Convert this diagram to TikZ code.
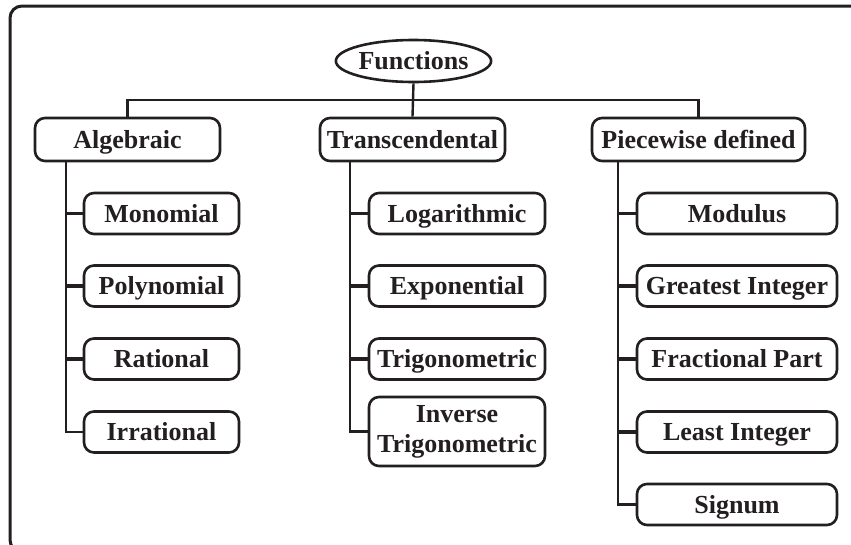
\documentclass[tikz,border=0pt]{standalone}
\usepackage{fontspec}
\setmainfont{Liberation Serif}
\usetikzlibrary{shapes.geometric}
\definecolor{ink}{HTML}{231F20}
\tikzset{
  box/.style={draw=ink, line width=2.6pt, rounded corners=10pt, inner sep=0pt, align=center,
    font=\fontsize{26}{30}\selectfont\bfseries, text=ink},
  oneline/.style={text height=17pt, text depth=0pt},
  lvlone/.style={box, oneline, minimum height=43pt},
  lvltwo/.style={box, oneline, minimum height=41pt},
  conn/.style={draw=ink, line width=2.4pt},
  stub/.style={draw=ink, line width=3.6pt},
}
\begin{document}
\begin{tikzpicture}[x=1pt,y=-1pt]
\clip (0,0) rectangle (851,544);
\draw[ink, line width=3pt, rounded corners=12pt] (10,6) rectangle (880,552);

\node[draw=ink, line width=2.6pt, ellipse, minimum width=149pt, minimum height=42pt, inner sep=0pt,
  oneline, font=\fontsize{26}{30}\selectfont\bfseries, text=ink] (fun) at (413.5,61) {Functions};

\node[lvlone, minimum width=185pt] (alg) at (127.5,139.5) {Algebraic};
\node[lvlone, minimum width=185pt] (tra) at (412.5,139.5) {Transcendental};
\node[lvlone, minimum width=213pt] (pie) at (698.5,139.5) {Piecewise defined};

\coordinate (bus) at (413.5,100);
\draw[conn] (fun.south) -- (tra.north);
\draw[conn] (alg.north) |- (bus) -| (pie.north);

% Algebraic
\node[lvltwo, minimum width=155pt] (mon) at (161.5,213.5) {Monomial};
\node[lvltwo, minimum width=155pt] (pol) at (161.5,286) {Polynomial};
\node[lvltwo, minimum width=155pt] (rat) at (161.5,359) {Rational};
\node[lvltwo, minimum width=155pt] (irr) at (161.5,432) {Irrational};
\coordinate (at) at (66,161);
\draw[conn] (at) |- (irr.west);
\foreach \n in {mon,pol,rat}{\draw[stub] (66,0 |- \n.west) -- (\n.west);}

% Transcendental
\node[lvltwo, minimum width=176pt] (log) at (457,213.5) {Logarithmic};
\node[lvltwo, minimum width=176pt] (exp) at (457,286) {Exponential};
\node[lvltwo, minimum width=176pt] (tri) at (457,359) {Trigonometric};
\node[box, minimum width=176pt, minimum height=69pt] (inv) at (457,431.5) {Inverse\\Trigonometric};
\coordinate (tt) at (350,161);
\draw[conn] (tt) |- (inv.west);
\foreach \n in {log,exp,tri}{\draw[stub] (350,0 |- \n.west) -- (\n.west);}

% Piecewise
\node[lvltwo, minimum width=200pt] (mod) at (737,213.5) {Modulus};
\node[lvltwo, minimum width=200pt] (gre) at (737,286) {Greatest Integer};
\node[lvltwo, minimum width=200pt] (fra) at (737,359) {Fractional Part};
\node[lvltwo, minimum width=200pt] (lea) at (737,432) {Least Integer};
\node[lvltwo, minimum width=200pt] (sig) at (737,504.5) {Signum};
\coordinate (pt) at (618,161);
\draw[conn] (pt) |- (sig.west);
\foreach \n in {mod,gre,fra,lea}{\draw[stub] (618,0 |- \n.west) -- (\n.west);}
\end{tikzpicture}
\end{document}
